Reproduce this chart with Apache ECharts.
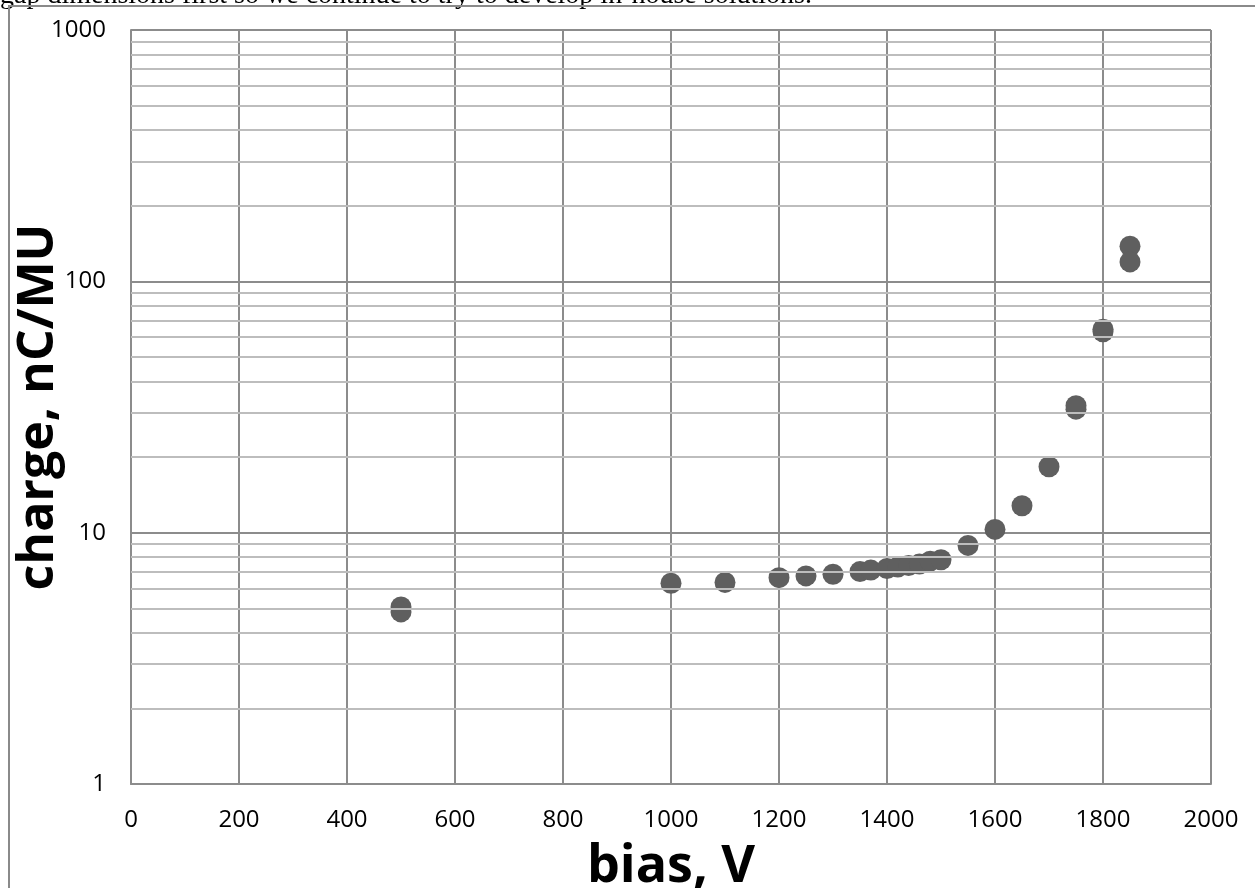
<!DOCTYPE html>
<html>
<head>
<meta charset="utf-8">
<script src="https://cdn.jsdelivr.net/npm/echarts@6/dist/echarts.min.js"></script>
<style>
html,body{margin:0;padding:0;background:#fff;}
#chart{width:1255px;height:888px;}
</style>
</head>
<body>
<div id="chart"></div>
<script>
// bias (V) and charge (nC/MU)
const biasV = [500, 500, 1000, 1100, 1200, 1250, 1300, 1350, 1370, 1400, 1420, 1440, 1460, 1480, 1500, 1550, 1600, 1650, 1700, 1750, 1750, 1800, 1800, 1850, 1850];
const chargeNC = [5.06, 4.84, 6.29, 6.34, 6.62, 6.73, 6.83, 7.0, 7.1, 7.2, 7.3, 7.4, 7.5, 7.7, 7.8, 8.9, 10.3, 12.8, 18.3, 31.0, 32.0, 63.0, 64.5, 138, 119.5];
const xTicks = [0, 200, 400, 600, 800, 1000, 1200, 1400, 1600, 1800, 2000];
const yTicks = [1, 10, 100, 1000];
const minorY = [2,3,4,5,6,7,8,9,20,30,40,50,60,70,80,90,200,300,400,500,600,700,800,900];

const points = biasV.map((b, i) => [b, chargeNC[i]]);

const chart = echarts.init(document.getElementById('chart'), null, {renderer: 'canvas'});
const font = '"Open Sans", sans-serif';
chart.setOption({
  animation: false,
  backgroundColor: '#fff',
  graphic: [
    {
      type: 'text', left: 0, top: -18, z: 10,
      style: {text: 'gap dimensions first so we continue to try to develop in-house solutions.', font: '28px "Liberation Serif", serif', fill: '#000'}
    },
    {
      type: 'rect', z: 10, silent: true,
      shape: {x: 9, y: 6, width: 1300, height: 1000},
      style: {fill: 'none', stroke: '#8a8a8a', lineWidth: 2}
    }
  ],
  grid: {left: 131, top: 30, right: 44, bottom: 104, containLabel: false, outerBoundsMode: 'none'},
  xAxis: {
    type: 'value', min: 0, max: 2000, interval: 200,
    name: 'bias, V', nameLocation: 'middle', nameGap: 57, nameMoveOverlap: false,
    nameTextStyle: {fontFamily: font, fontWeight: 'bold', fontSize: 52, color: '#000'},
    axisLine: {show: true, lineStyle: {color: '#8c8c8c', width: 2}},
    axisTick: {show: false},
    axisLabel: {fontFamily: font, fontSize: 24, color: '#000', margin: 24,
      formatter: v => String(Math.round(v))},
    splitLine: {show: true, lineStyle: {color: '#8c8c8c', width: 2}}
  },
  yAxis: {
    type: 'log', logBase: 10, min: 1, max: 1000,
    name: 'charge, nC/MU', nameLocation: 'middle', nameGap: 67, nameMoveOverlap: false,
    nameTextStyle: {fontFamily: font, fontWeight: 'bold', fontSize: 50, color: '#000'},
    axisLine: {show: true, lineStyle: {color: '#8c8c8c', width: 2}},
    axisTick: {show: false},
    axisLabel: {fontFamily: font, fontSize: 24, color: '#000', margin: 25,
      formatter: v => String(Math.round(v))},
    splitLine: {show: true, lineStyle: {color: '#8c8c8c', width: 2}}
  },
  series: [
    {
      type: 'scatter', data: [], z: 1, silent: true,
      markLine: {
        silent: true, symbol: 'none', animation: false,
        label: {show: false},
        lineStyle: {color: '#bdbdbd', width: 2, type: 'solid'},
        data: minorY.map(v => ({yAxis: v}))
      }
    },
    {
      type: 'scatter', data: points, z: 3,
      symbol: 'circle', symbolSize: 21,
      itemStyle: {color: '#5f5f5f', opacity: 1}
    }
  ]
});
</script>
</body>
</html>
